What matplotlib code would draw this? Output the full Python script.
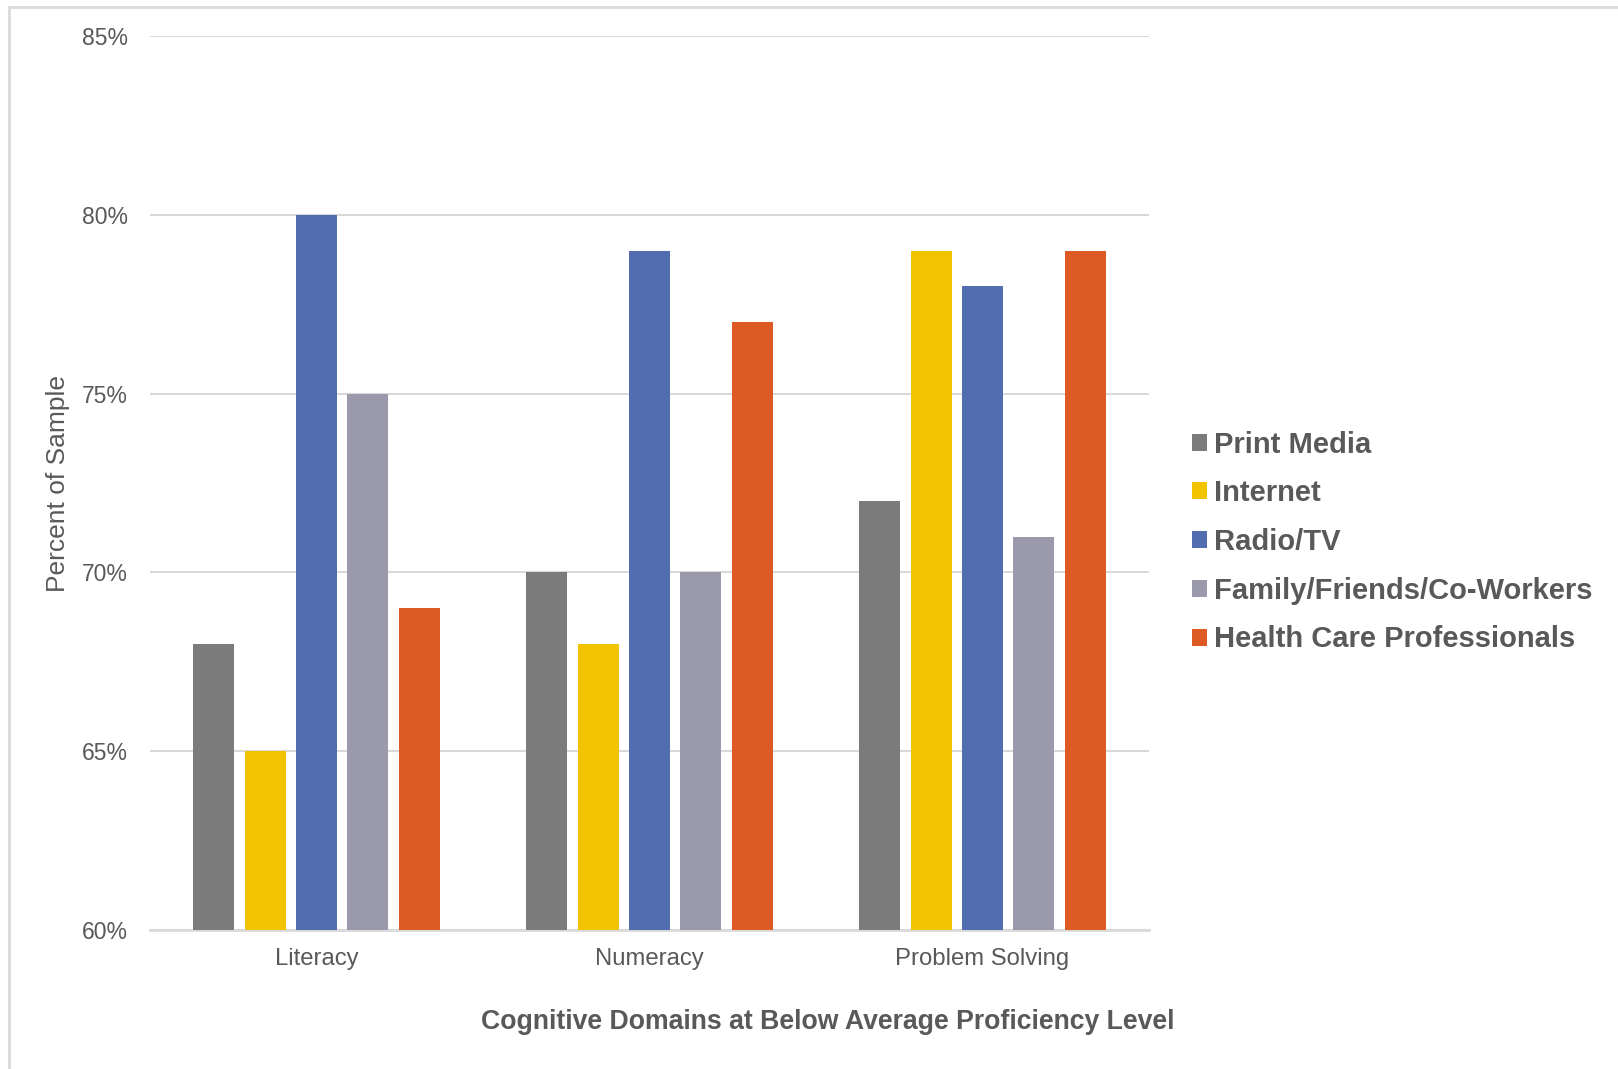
import matplotlib
matplotlib.use("Agg")
import matplotlib.pyplot as plt
import numpy as np
from matplotlib.patches import Rectangle
from matplotlib.ticker import FuncFormatter

# Data
domains = ["Literacy", "Numeracy", "Problem Solving"]
sources = ["Print Media", "Internet", "Radio/TV",
           "Family/Friends/Co-Workers", "Health Care Professionals"]
print_media = [68, 70, 72]
internet = [65, 68, 79]
radio_tv = [80, 79, 78]
family_friends = [75, 70, 71]
health_care = [69, 77, 79]
yticks = [60, 65, 70, 75, 80, 85]

series = [print_media, internet, radio_tv, family_friends, health_care]
colors = ["#7B7B7B", "#F2C300", "#516DB0", "#9A9AAC", "#DE5A24"]
text_color = "#595959"
grid_color = "#D9D9D9"

plt.rcParams["font.family"] = ["Liberation Sans", "DejaVu Sans"]

W, H = 1618, 1069
fig = plt.figure(figsize=(W / 100, H / 100), dpi=100)
ax = fig.add_axes([150 / W, 1 - 930 / H, 999 / W, 894 / H])

x = np.arange(len(domains))
pitch = 0.154
width = 0.123
for i, (vals, col, name) in enumerate(zip(series, colors, sources)):
    ax.bar(x + (i - 2) * pitch, [v - 60 for v in vals], width=width,
           bottom=60, color=col, label=name, zorder=3)

ax.set_xlim(-0.5, 2.5)
ax.set_ylim(60, 85)
ax.set_yticks(yticks)
ax.yaxis.set_major_formatter(FuncFormatter(lambda v, p: f"{v:.0f}%"))
ax.set_xticks(x)
ax.set_xticklabels(domains)

ax.grid(axis="y", color=grid_color, linewidth=1.5, zorder=0)
ax.set_axisbelow(True)
for s in ["top", "right", "left"]:
    ax.spines[s].set_visible(False)
ax.spines["bottom"].set_color(grid_color)
ax.spines["bottom"].set_linewidth(2)

ax.tick_params(axis="y", length=0, pad=16, labelsize=16.5, labelcolor=text_color)
ax.tick_params(axis="x", length=0, pad=13, labelsize=17.2, labelcolor=text_color)

ax.set_ylabel("Percent of Sample", fontsize=19, color=text_color)
ax.yaxis.label.set_va("center")
ax.yaxis.set_label_coords(-0.092, 0.5)

ax.set_xlabel("Cognitive Domains at Below Average Proficiency Level",
              fontsize=19.2, fontweight="bold", color=text_color)
ax.xaxis.label.set_va("center")
ax.xaxis.set_label_coords(0.678, -0.1025)

leg = fig.legend(loc="center left", bbox_to_anchor=(1192 / W, 1 - 542 / H),
                 frameon=False, borderpad=0, borderaxespad=0,
                 handlelength=0.52, handleheight=0.52, handletextpad=0.24,
                 labelspacing=0.71,
                 prop={"size": 21, "weight": "bold"})
for t in leg.get_texts():
    t.set_color(text_color)

# Chart-area border (left and top edges visible)
fig.patches.append(Rectangle((9 / W, -0.2), 1.5, 1.2 - 7 / H,
                             transform=fig.transFigure, fill=False,
                             edgecolor=grid_color, linewidth=2))

fig.savefig("out.png", dpi=100)
